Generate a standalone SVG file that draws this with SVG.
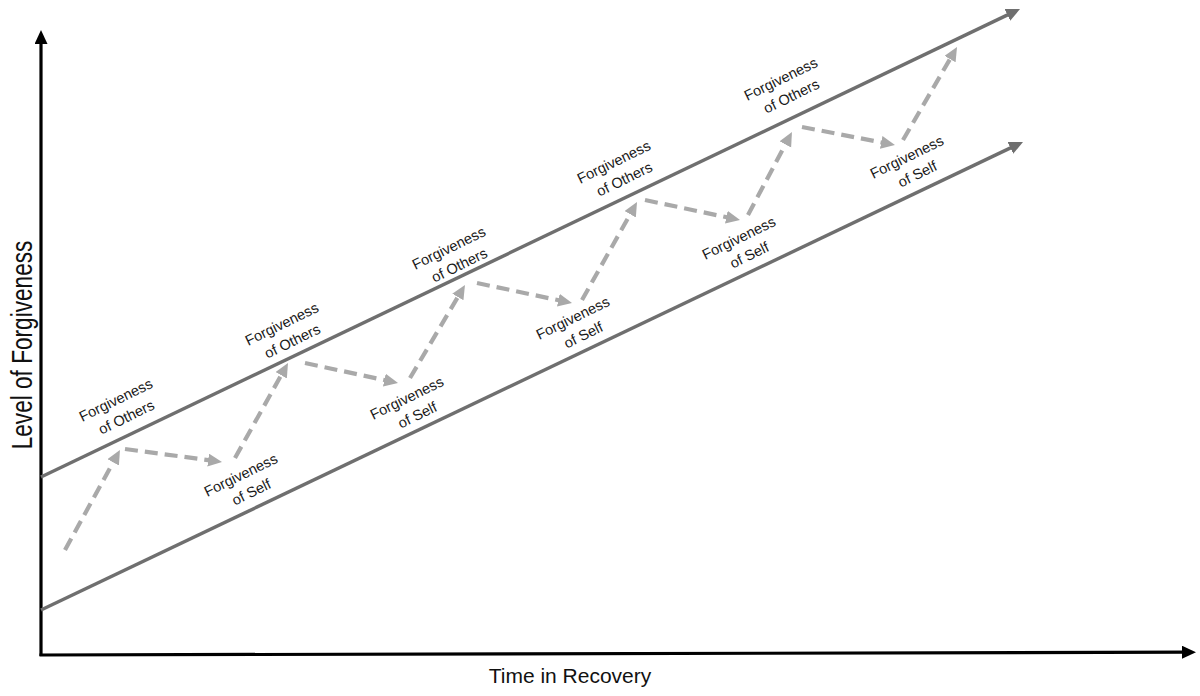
<svg xmlns="http://www.w3.org/2000/svg" width="1200" height="696" viewBox="0 0 1200 696">
<style>
  .axis { stroke: #000; stroke-width: 3.2; fill: none; }
  .band { stroke: #6f6f6f; stroke-width: 3.4; fill: none; }
  .dash { stroke: #a9a9a9; stroke-width: 4.2; fill: none; stroke-dasharray: 13 7; }
  .lbl { font-family: "Liberation Sans", Arial, Helvetica, sans-serif; font-size: 14.6px; fill: #1a1a1a; text-anchor: middle; }
  .ax { font-family: "Liberation Sans", Arial, Helvetica, sans-serif; fill: #111; text-anchor: middle; }
</style>
<defs>
  <marker id="mAxis" markerUnits="userSpaceOnUse" markerWidth="16" markerHeight="14" refX="6" refY="6.5" orient="auto">
    <path d="M0,0 L14,6.5 L0,13 z" fill="#000"/>
  </marker>
  <marker id="mBand" markerUnits="userSpaceOnUse" markerWidth="16" markerHeight="14" refX="6" refY="6.5" orient="auto">
    <path d="M0,0 L14,6.5 L0,13 z" fill="#6f6f6f"/>
  </marker>
  <marker id="mDash" markerUnits="userSpaceOnUse" markerWidth="16" markerHeight="14" refX="6" refY="6.5" orient="auto">
    <path d="M0,0 L14,6.5 L0,13 z" fill="#a9a9a9"/>
  </marker>
</defs>
<rect width="1200" height="696" fill="#fff"/>

<g id="axes">
  <line class="axis" x1="41" y1="656" x2="41" y2="38" marker-end="url(#mAxis)"/>
  <line class="axis" x1="39.5" y1="655" x2="1188" y2="652.2" marker-end="url(#mAxis)"/>
  <text class="ax" font-size="29" transform="translate(32,345) rotate(-90) scale(0.78,1)">Level of Forgiveness</text>
  <text class="ax" font-size="21" x="570" y="683">Time in Recovery</text>
</g>

<g id="bands">
  <line class="band" x1="41" y1="477" x2="1012.8" y2="12.4" marker-end="url(#mBand)"/>
  <line class="band" x1="41" y1="610" x2="1015.8" y2="145.4" marker-end="url(#mBand)"/>
</g>

<g id="connectors">
  <line class="dash" x1="65" y1="550" x2="116.1" y2="457.0" marker-end="url(#mDash)"/>
  <line class="dash" x1="125" y1="449" x2="214.1" y2="460.9" marker-end="url(#mDash)"/>
  <line class="dash" x1="235" y1="458" x2="284.1" y2="370.0" marker-end="url(#mDash)"/>
  <line class="dash" x1="305" y1="363" x2="390.2" y2="381.3" marker-end="url(#mDash)"/>
  <line class="dash" x1="410" y1="378" x2="460.9" y2="291.9" marker-end="url(#mDash)"/>
  <line class="dash" x1="477" y1="283" x2="564.2" y2="301.4" marker-end="url(#mDash)"/>
  <line class="dash" x1="582" y1="300" x2="633.1" y2="209.0" marker-end="url(#mDash)"/>
  <line class="dash" x1="645" y1="200" x2="732.2" y2="218.4" marker-end="url(#mDash)"/>
  <line class="dash" x1="748" y1="215" x2="788.2" y2="139.1" marker-end="url(#mDash)"/>
  <line class="dash" x1="802" y1="127" x2="887.1" y2="143.5" marker-end="url(#mDash)"/>
  <line class="dash" x1="903" y1="140" x2="953.0" y2="53.9" marker-end="url(#mDash)"/>
</g>

<g id="others1" transform="translate(118,404.5) rotate(-26)">
  <text class="lbl" x="0" y="0">Forgiveness</text><text class="lbl" x="2" y="20">of Others</text>
</g>
<g id="self1" transform="translate(243,479.5) rotate(-26)">
  <text class="lbl" x="0" y="0">Forgiveness</text><text class="lbl" x="2" y="20">of Self</text>
</g>
<g id="others2" transform="translate(284,328.5) rotate(-26)">
  <text class="lbl" x="0" y="0">Forgiveness</text><text class="lbl" x="2" y="20">of Others</text>
</g>
<g id="self2" transform="translate(409,402.5) rotate(-26)">
  <text class="lbl" x="0" y="0">Forgiveness</text><text class="lbl" x="2" y="20">of Self</text>
</g>
<g id="others3" transform="translate(451,252.5) rotate(-26)">
  <text class="lbl" x="0" y="0">Forgiveness</text><text class="lbl" x="2" y="20">of Others</text>
</g>
<g id="self3" transform="translate(575,322.5) rotate(-26)">
  <text class="lbl" x="0" y="0">Forgiveness</text><text class="lbl" x="2" y="20">of Self</text>
</g>
<g id="others4" transform="translate(616,166.5) rotate(-26)">
  <text class="lbl" x="0" y="0">Forgiveness</text><text class="lbl" x="2" y="20">of Others</text>
</g>
<g id="self4" transform="translate(741,242.5) rotate(-26)">
  <text class="lbl" x="0" y="0">Forgiveness</text><text class="lbl" x="2" y="20">of Self</text>
</g>
<g id="others5" transform="translate(783,83.5) rotate(-26)">
  <text class="lbl" x="0" y="0">Forgiveness</text><text class="lbl" x="2" y="20">of Others</text>
</g>
<g id="self5" transform="translate(909,161.5) rotate(-26)">
  <text class="lbl" x="0" y="0">Forgiveness</text><text class="lbl" x="2" y="20">of Self</text>
</g>
</svg>
